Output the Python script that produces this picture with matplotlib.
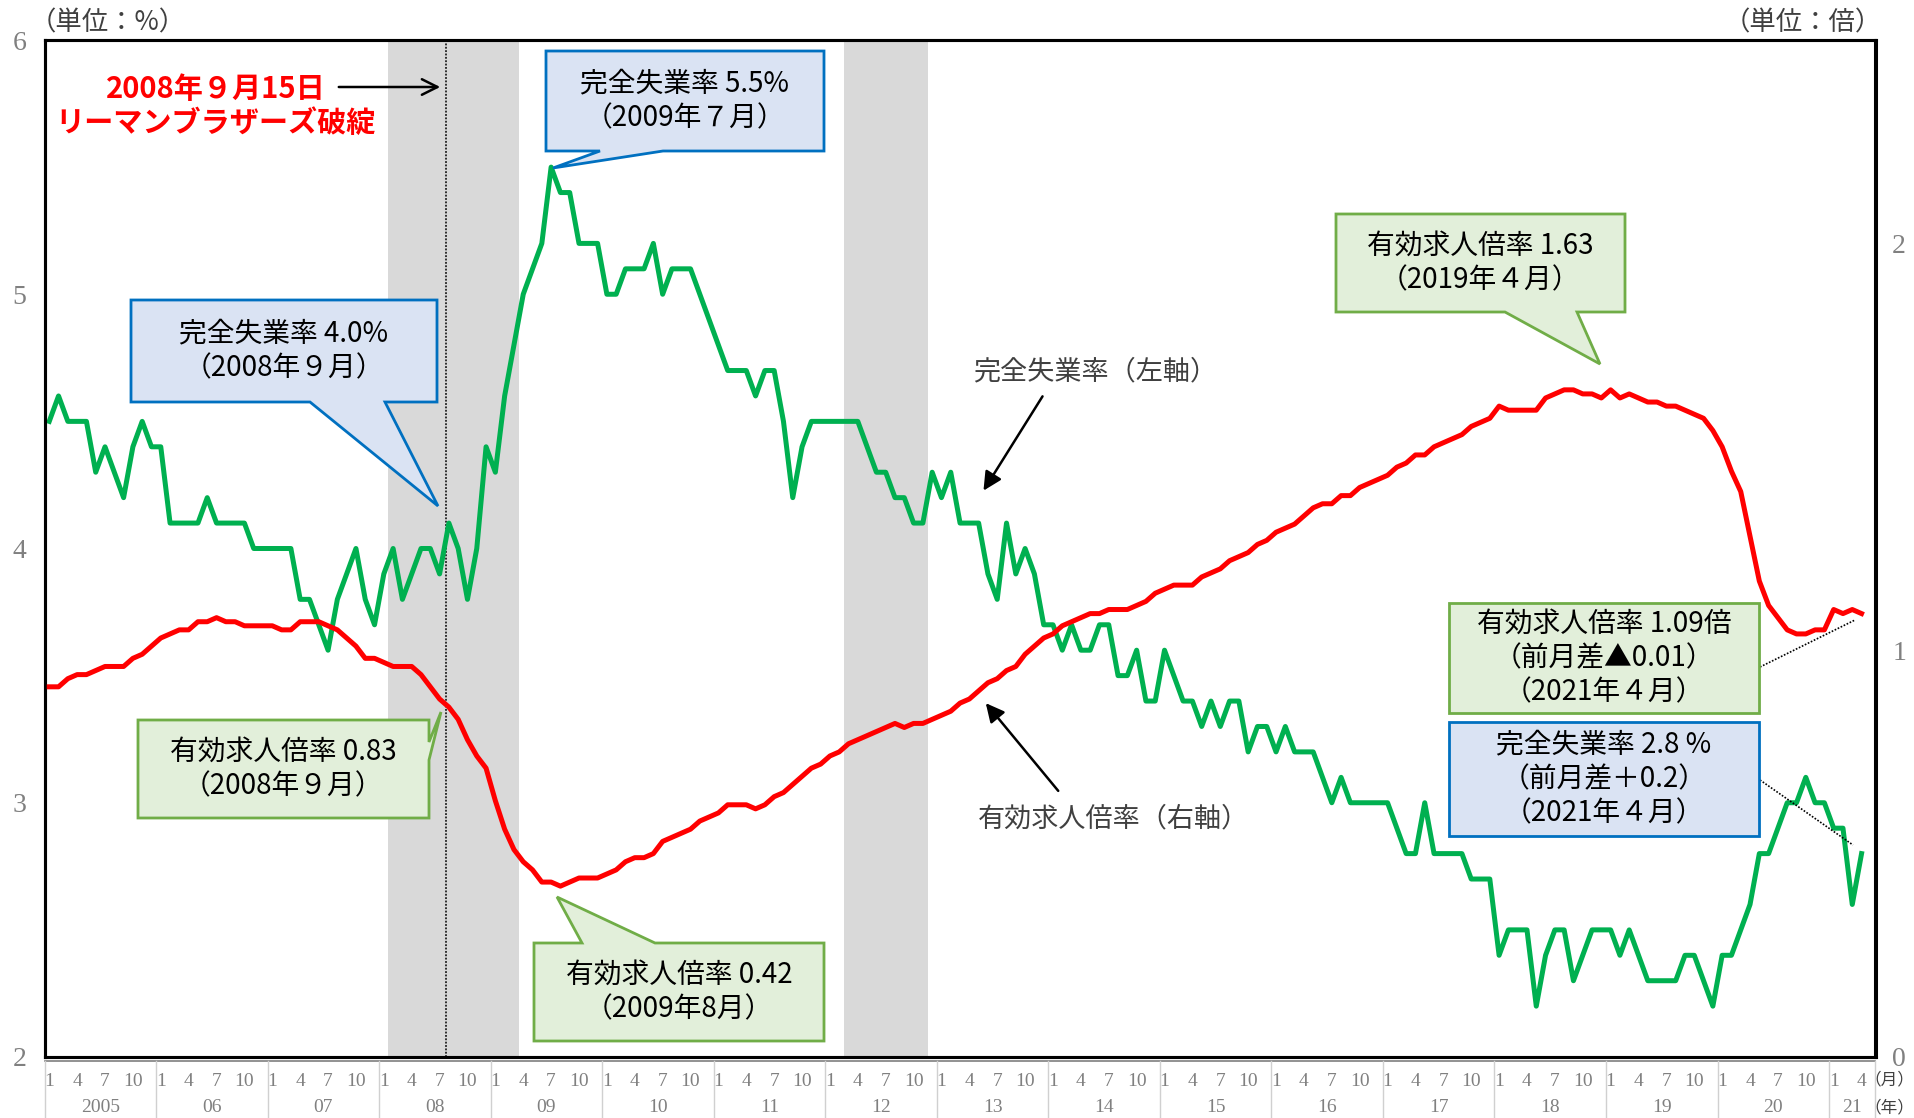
import matplotlib.pyplot as plt
from matplotlib.patches import Polygon
from matplotlib.lines import Line2D

plt.rcParams['font.family'] = ['Noto Sans CJK JP', 'DejaVu Sans']

W, H = 1915, 1118

# monthly, 2005/1 .. 2021/4
unemployment = [
    4.5, 4.6, 4.5, 4.5, 4.5, 4.3, 4.4, 4.3, 4.2, 4.4, 4.5, 4.4,   # 2005
    4.4, 4.1, 4.1, 4.1, 4.1, 4.2, 4.1, 4.1, 4.1, 4.1, 4.0, 4.0,   # 2006
    4.0, 4.0, 4.0, 3.8, 3.8, 3.7, 3.6, 3.8, 3.9, 4.0, 3.8, 3.7,   # 2007
    3.9, 4.0, 3.8, 3.9, 4.0, 4.0, 3.9, 4.1, 4.0, 3.8, 4.0, 4.4,   # 2008
    4.3, 4.6, 4.8, 5.0, 5.1, 5.2, 5.5, 5.4, 5.4, 5.2, 5.2, 5.2,   # 2009
    5.0, 5.0, 5.1, 5.1, 5.1, 5.2, 5.0, 5.1, 5.1, 5.1, 5.0, 4.9,   # 2010
    4.8, 4.7, 4.7, 4.7, 4.6, 4.7, 4.7, 4.5, 4.2, 4.4, 4.5, 4.5,   # 2011
    4.5, 4.5, 4.5, 4.5, 4.4, 4.3, 4.3, 4.2, 4.2, 4.1, 4.1, 4.3,   # 2012
    4.2, 4.3, 4.1, 4.1, 4.1, 3.9, 3.8, 4.1, 3.9, 4.0, 3.9, 3.7,   # 2013
    3.7, 3.6, 3.7, 3.6, 3.6, 3.7, 3.7, 3.5, 3.5, 3.6, 3.4, 3.4,   # 2014
    3.6, 3.5, 3.4, 3.4, 3.3, 3.4, 3.3, 3.4, 3.4, 3.2, 3.3, 3.3,   # 2015
    3.2, 3.3, 3.2, 3.2, 3.2, 3.1, 3.0, 3.1, 3.0, 3.0, 3.0, 3.0,   # 2016
    3.0, 2.9, 2.8, 2.8, 3.0, 2.8, 2.8, 2.8, 2.8, 2.7, 2.7, 2.7,   # 2017
    2.4, 2.5, 2.5, 2.5, 2.2, 2.4, 2.5, 2.5, 2.3, 2.4, 2.5, 2.5,   # 2018
    2.5, 2.4, 2.5, 2.4, 2.3, 2.3, 2.3, 2.3, 2.4, 2.4, 2.3, 2.2,   # 2019
    2.4, 2.4, 2.5, 2.6, 2.8, 2.8, 2.9, 3.0, 3.0, 3.1, 3.0, 3.0,   # 2020
    2.9, 2.9, 2.6, 2.8,                                           # 2021
]

job_ratio = [
    0.91, 0.91, 0.93, 0.94, 0.94, 0.95, 0.96, 0.96, 0.96, 0.98, 0.99, 1.01,
    1.03, 1.04, 1.05, 1.05, 1.07, 1.07, 1.08, 1.07, 1.07, 1.06, 1.06, 1.06,
    1.06, 1.05, 1.05, 1.07, 1.07, 1.07, 1.06, 1.05, 1.03, 1.01, 0.98, 0.98,
    0.97, 0.96, 0.96, 0.96, 0.94, 0.91, 0.88, 0.86, 0.83, 0.78, 0.74, 0.71,
    0.63, 0.56, 0.51, 0.48, 0.46, 0.43, 0.43, 0.42, 0.43, 0.44, 0.44, 0.44,
    0.45, 0.46, 0.48, 0.49, 0.49, 0.50, 0.53, 0.54, 0.55, 0.56, 0.58, 0.59,
    0.60, 0.62, 0.62, 0.62, 0.61, 0.62, 0.64, 0.65, 0.67, 0.69, 0.71, 0.72,
    0.74, 0.75, 0.77, 0.78, 0.79, 0.80, 0.81, 0.82, 0.81, 0.82, 0.82, 0.83,
    0.84, 0.85, 0.87, 0.88, 0.90, 0.92, 0.93, 0.95, 0.96, 0.99, 1.01, 1.03,
    1.04, 1.06, 1.07, 1.08, 1.09, 1.09, 1.10, 1.10, 1.10, 1.11, 1.12, 1.14,
    1.15, 1.16, 1.16, 1.16, 1.18, 1.19, 1.20, 1.22, 1.23, 1.24, 1.26, 1.27,
    1.29, 1.30, 1.31, 1.33, 1.35, 1.36, 1.36, 1.38, 1.38, 1.40, 1.41, 1.42,
    1.43, 1.45, 1.46, 1.48, 1.48, 1.50, 1.51, 1.52, 1.53, 1.55, 1.56, 1.57,
    1.60, 1.59, 1.59, 1.59, 1.59, 1.62, 1.63, 1.64, 1.64, 1.63, 1.63, 1.62,
    1.64, 1.62, 1.63, 1.62, 1.61, 1.61, 1.60, 1.60, 1.59, 1.58, 1.57, 1.54,
    1.50, 1.44, 1.39, 1.28, 1.17, 1.11, 1.08, 1.05, 1.04, 1.04, 1.05, 1.05,
    1.10, 1.09, 1.10, 1.09,
]

year_labels = ['2005', '06', '07', '08', '09', '10', '11', '12', '13',
               '14', '15', '16', '17', '18', '19', '20', '21']
month_labels = ['1', '4', '7', '10']
recessions = [(37, 50), (86, 94)]   # month index, first and last shaded month
n_cat = len(unemployment) + 1       # one empty slot after 2021/4
lehman_x = 42.7


def fx(x):
    return x / W


def fy(y):
    return 1 - y / H


def callout(fig, pts, face, edge, text, cx, cy, fs=20):
    poly = Polygon([(fx(a), fy(b)) for a, b in pts], closed=True,
                   transform=fig.transFigure, facecolor=face, edgecolor=edge,
                   lw=2, joinstyle='miter', zorder=5)
    fig.add_artist(poly)
    fig.text(fx(cx), fy(cy), text, ha='center', va='center', fontsize=fs,
             linespacing=1.2, zorder=6)


fig = plt.figure(figsize=(W / 100, H / 100), dpi=100)
ax = fig.add_axes([fx(44.6), fy(1057), (1875.5 - 44.6) / W, (1057 - 40) / H])
ax2 = ax.twinx()

x = list(range(len(unemployment)))
for a, b in recessions:
    ax.axvspan(a - 0.5, b + 0.5, color='#D9D9D9', lw=0, zorder=0)
ax.axvline(lehman_x, color='black', ls=(0, (1.2, 1.0)), lw=1.1, zorder=1)

ax.plot(x, unemployment, color='#00B050', lw=3.6, solid_joinstyle='round', zorder=3)
ax2.plot(x, job_ratio, color='#FF0000', lw=3.6, solid_joinstyle='round', zorder=3)

ax.set_xlim(-0.5, n_cat - 0.5)
ax.set_ylim(2, 6)
ax2.set_ylim(0, 2.5)
ax.set_xticks([])
ax.tick_params(axis='y', length=0, pad=13, labelcolor='#808080')
ax2.tick_params(axis='y', length=0, pad=12, labelcolor='#808080')
ax.set_yticks([2, 3, 4, 5, 6], labels=['2', '3', '4', '5', '6'],
              fontfamily='Liberation Serif', fontsize=20)
ax2.set_yticks([0, 1, 2], labels=['0', '1', '2'],
               fontfamily='Liberation Serif', fontsize=20)
for a in (ax, ax2):
    for s in a.spines.values():
        s.set_linewidth(2.2)
        s.set_color('black')

# category axis: months and years
tr = ax.get_xaxis_transform()
y_month = (1057 - 1081) / 1017
y_year = (1057 - 1108) / 1017
y_end = (1057 - 1118) / 1017
ax.add_line(Line2D([-0.5, n_cat - 0.5], [-0.004, -0.004], transform=tr,
                   color='#7f7f7f', lw=1.2, clip_on=False))
for k, yl in enumerate(year_labels):
    start = 12 * k
    stop = min(start + 12, n_cat)
    for m in month_labels:
        idx = start + int(m) - 1
        if idx < stop:
            ax.text(idx, y_month, m, transform=tr, ha='center', va='center',
                    fontsize=14, color='#808080', fontfamily='Liberation Serif')
    ax.text((start + stop) / 2 - 0.5, y_year, yl, transform=tr, ha='center',
            va='center', fontsize=14, color='#808080', fontfamily='Liberation Serif')
    ax.add_line(Line2D([start - 0.5, start - 0.5], [-0.004, y_end], transform=tr,
                       color='#D0D0D0', lw=1, clip_on=False))
ax.add_line(Line2D([n_cat - 0.5, n_cat - 0.5], [-0.004, y_end], transform=tr,
                   color='#D0D0D0', lw=1, clip_on=False))
fig.text(fx(1889), fy(1080), '（月）', ha='center', va='center', fontsize=12, color='#404040')
fig.text(fx(1889), fy(1108), '（年）', ha='center', va='center', fontsize=12, color='#404040')

# units
fig.text(fx(30), fy(23), '（単位：%）', ha='left', va='center', fontsize=19, color='#404040')
fig.text(fx(1882), fy(23), '（単位：倍）', ha='right', va='center', fontsize=19, color='#404040')

# Lehman note
fig.text(fx(216), fy(106), '2008年９月15日\nリーマンブラザーズ破綻', color='#FF0000',
         fontsize=21, fontweight='bold', ha='center', va='center', linespacing=1.15)
ax.annotate('', xy=(fx(443), fy(87)), xytext=(fx(336), fy(87)), xycoords='figure fraction',
            arrowprops=dict(arrowstyle='->', lw=1.8, color='black', mutation_scale=28))

# series labels
fig.text(fx(973), fy(372), '完全失業率（左軸）', ha='left', va='center', fontsize=19.5, color='#404040')
ax.annotate('', xy=(fx(982), fy(493)), xytext=(fx(1044), fy(394)), xycoords='figure fraction',
            arrowprops=dict(arrowstyle='-|>', lw=1.8, color='black', mutation_scale=28))
fig.text(fx(978), fy(819), '有効求人倍率（右軸）', ha='left', va='center', fontsize=19.5, color='#404040')
ax.annotate('', xy=(fx(984), fy(701)), xytext=(fx(1060), fy(793)), xycoords='figure fraction',
            arrowprops=dict(arrowstyle='-|>', lw=1.8, color='black', mutation_scale=28))

blue_f, blue_e = '#DAE3F3', '#0070C0'
green_f, green_e = '#E2EFDA', '#70AD47'

callout(fig, [(131, 300), (437, 300), (437, 402), (385, 402), (438, 506), (310, 402), (131, 402)],
        blue_f, blue_e, '完全失業率 4.0%\n（2008年９月）', 284, 351)
callout(fig, [(546, 51), (824, 51), (824, 151), (663, 151), (553, 168), (600, 151), (546, 151)],
        blue_f, blue_e, '完全失業率 5.5%\n（2009年７月）', 685, 101)
callout(fig, [(138, 720), (429, 720), (429, 742), (441, 712), (429, 760), (429, 818), (138, 818)],
        green_f, green_e, '有効求人倍率 0.83\n（2008年９月）', 283, 769)
callout(fig, [(534, 943), (582, 943), (557, 897), (655, 943), (824, 943), (824, 1041), (534, 1041)],
        green_f, green_e, '有効求人倍率 0.42\n（2009年8月）', 679, 992)
callout(fig, [(1336, 214), (1625, 214), (1625, 312), (1577, 312), (1600, 364), (1505, 312), (1336, 312)],
        green_f, green_e, '有効求人倍率 1.63\n（2019年４月）', 1480, 263)
callout(fig, [(1449, 603), (1759, 603), (1759, 713), (1449, 713)],
        green_f, green_e, '有効求人倍率 1.09倍\n（前月差▲0.01）\n（2021年４月）', 1604, 658)
callout(fig, [(1449, 722), (1759, 722), (1759, 836), (1449, 836)],
        blue_f, blue_e, '完全失業率 2.8 %\n（前月差＋0.2）\n（2021年４月）', 1604, 779)

fig.add_artist(Line2D([fx(1760), fx(1855)], [fy(667), fy(620)], transform=fig.transFigure,
                      color='black', ls=(0, (1, 1)), lw=1.2, zorder=4))
fig.add_artist(Line2D([fx(1760), fx(1853)], [fy(780), fy(845)], transform=fig.transFigure,
                      color='black', ls=(0, (1, 1)), lw=1.2, zorder=4))

fig.savefig('out.png', dpi=100)
